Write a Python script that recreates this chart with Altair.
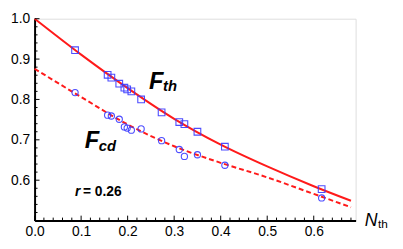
import altair as alt
import pandas as pd

# Data points
n_pts = [0.087, 0.157, 0.165, 0.182, 0.193, 0.199, 0.208, 0.229, 0.273, 0.311, 0.322, 0.350, 0.409, 0.617]
f_th_pts = [0.922, 0.861, 0.854, 0.839, 0.829, 0.825, 0.820, 0.800, 0.768, 0.744, 0.739, 0.720, 0.683, 0.578]
f_cd_pts = [0.817, 0.761, 0.759, 0.751, 0.732, 0.729, 0.724, 0.727, 0.698, 0.676, 0.659, 0.663, 0.637, 0.556]

# Theory curves
n_curve = [0.0, 0.1, 0.2, 0.3, 0.4, 0.5, 0.6, 0.68]
f_th_curve = [1.0, 0.911, 0.828, 0.752, 0.688, 0.634, 0.585, 0.549]
f_cd_curve = [0.876, 0.806, 0.738, 0.684, 0.643, 0.607, 0.566, 0.533]

x_ticks = [0.0, 0.1, 0.2, 0.3, 0.4, 0.5, 0.6]
y_ticks = [0.6, 0.7, 0.8, 0.9, 1.0]
x_minor = [round(i * 0.02, 2) for i in range(35) if i % 5 != 0]
y_minor = [round(0.5 + i * 0.02, 2) for i in range(26) if i % 5 != 0]
y_major_all = [0.5, 0.6, 0.7, 0.8, 0.9, 1.0]

W, H = 326, 205
FONT = "Liberation Sans"

pts = pd.DataFrame({"n": n_pts, "th": f_th_pts, "cd": f_cd_pts})
curve = pd.DataFrame({"n": n_curve, "th": f_th_curve, "cd": f_cd_curve})

xs = alt.Scale(domain=[0, 0.69], nice=False, zero=False)
ys = alt.Scale(domain=[0.5, 1.0], nice=False, zero=False)

xaxis = alt.Axis(values=x_ticks, format=".1f", tickSize=0, grid=False, domainColor="black",
                 domainWidth=2, labelFontSize=14, labelPadding=4, labelFont=FONT,
                 labelColor="black", title=None, labelFlush=False)
yaxis = alt.Axis(values=y_ticks, format=".1f", tickSize=0, grid=False, domainColor="black",
                 domainWidth=2, labelFontSize=14, labelPadding=5, labelFont=FONT,
                 labelColor="black", title=None)

base_curve = alt.Chart(curve)
line_th = base_curve.mark_line(color="#ff1a1a", strokeWidth=2, interpolate="monotone").encode(
    x=alt.X("n:Q", scale=xs, axis=xaxis), y=alt.Y("th:Q", scale=ys, axis=yaxis))
line_cd = base_curve.mark_line(color="#ff1a1a", strokeWidth=2, strokeDash=[5, 3],
                               interpolate="monotone").encode(
    x=alt.X("n:Q", scale=xs), y=alt.Y("cd:Q", scale=ys))

sq = alt.Chart(pts).mark_point(shape="square", size=46, filled=False, color="#3a3aff",
                               strokeWidth=1.1, opacity=0.9).encode(
    x=alt.X("n:Q", scale=xs), y=alt.Y("th:Q", scale=ys))
ci = alt.Chart(pts).mark_point(shape="circle", size=40, filled=False, color="#3a3aff",
                               strokeWidth=1.1, opacity=0.9).encode(
    x=alt.X("n:Q", scale=xs), y=alt.Y("cd:Q", scale=ys))

# inward axis ticks
xt_major = alt.Chart(pd.DataFrame({"v": x_ticks})).mark_rule(color="black", strokeWidth=1).encode(
    x=alt.X("v:Q", scale=xs), y=alt.value(H), y2=alt.value(H - 5))
xt_minor = alt.Chart(pd.DataFrame({"v": x_minor})).mark_rule(color="black", strokeWidth=1).encode(
    x=alt.X("v:Q", scale=xs), y=alt.value(H), y2=alt.value(H - 3))
yt_major = alt.Chart(pd.DataFrame({"v": y_major_all})).mark_rule(color="black", strokeWidth=1).encode(
    y=alt.Y("v:Q", scale=ys), x=alt.value(0), x2=alt.value(5))
yt_minor = alt.Chart(pd.DataFrame({"v": y_minor})).mark_rule(color="black", strokeWidth=1).encode(
    y=alt.Y("v:Q", scale=ys), x=alt.value(0), x2=alt.value(3))


def txt(t, x, y, size, weight="bold", style="italic"):
    return alt.Chart(pd.DataFrame({"a": [0]})).mark_text(
        text=t, align="left", baseline="alphabetic", fontSize=size, fontWeight=weight,
        fontStyle=style, font=FONT, color="black").encode(
        x=alt.X("xx:Q", scale=xs),
        y=alt.Y("yy:Q", scale=ys)).transform_calculate(xx=str(x), yy=str(y))


texts = [
    txt("F", 0.246, 0.827, 24),
    txt("th", 0.276, 0.8205, 15),
    txt("F", 0.108, 0.680, 24),
    txt("cd", 0.138, 0.6735, 15),
    txt("r", 0.087, 0.5605, 14),
    txt("= 0.26", 0.104, 0.5605, 14, style="normal"),
    txt("N", 0.7097, 0.4854, 18, weight="normal"),
    txt("th", 0.738, 0.4805, 12, weight="normal", style="normal"),
]

chart = alt.layer(line_th, line_cd, sq, ci, xt_major, xt_minor, yt_major, yt_minor, *texts).properties(
    width=W, height=H, autosize="none",
    padding={"left": 27, "top": 9, "right": 40, "bottom": 27},
).configure_view(stroke=None).configure(background="white")

chart.save("out.html", embed_options={"renderer": "svg", "actions": False})
